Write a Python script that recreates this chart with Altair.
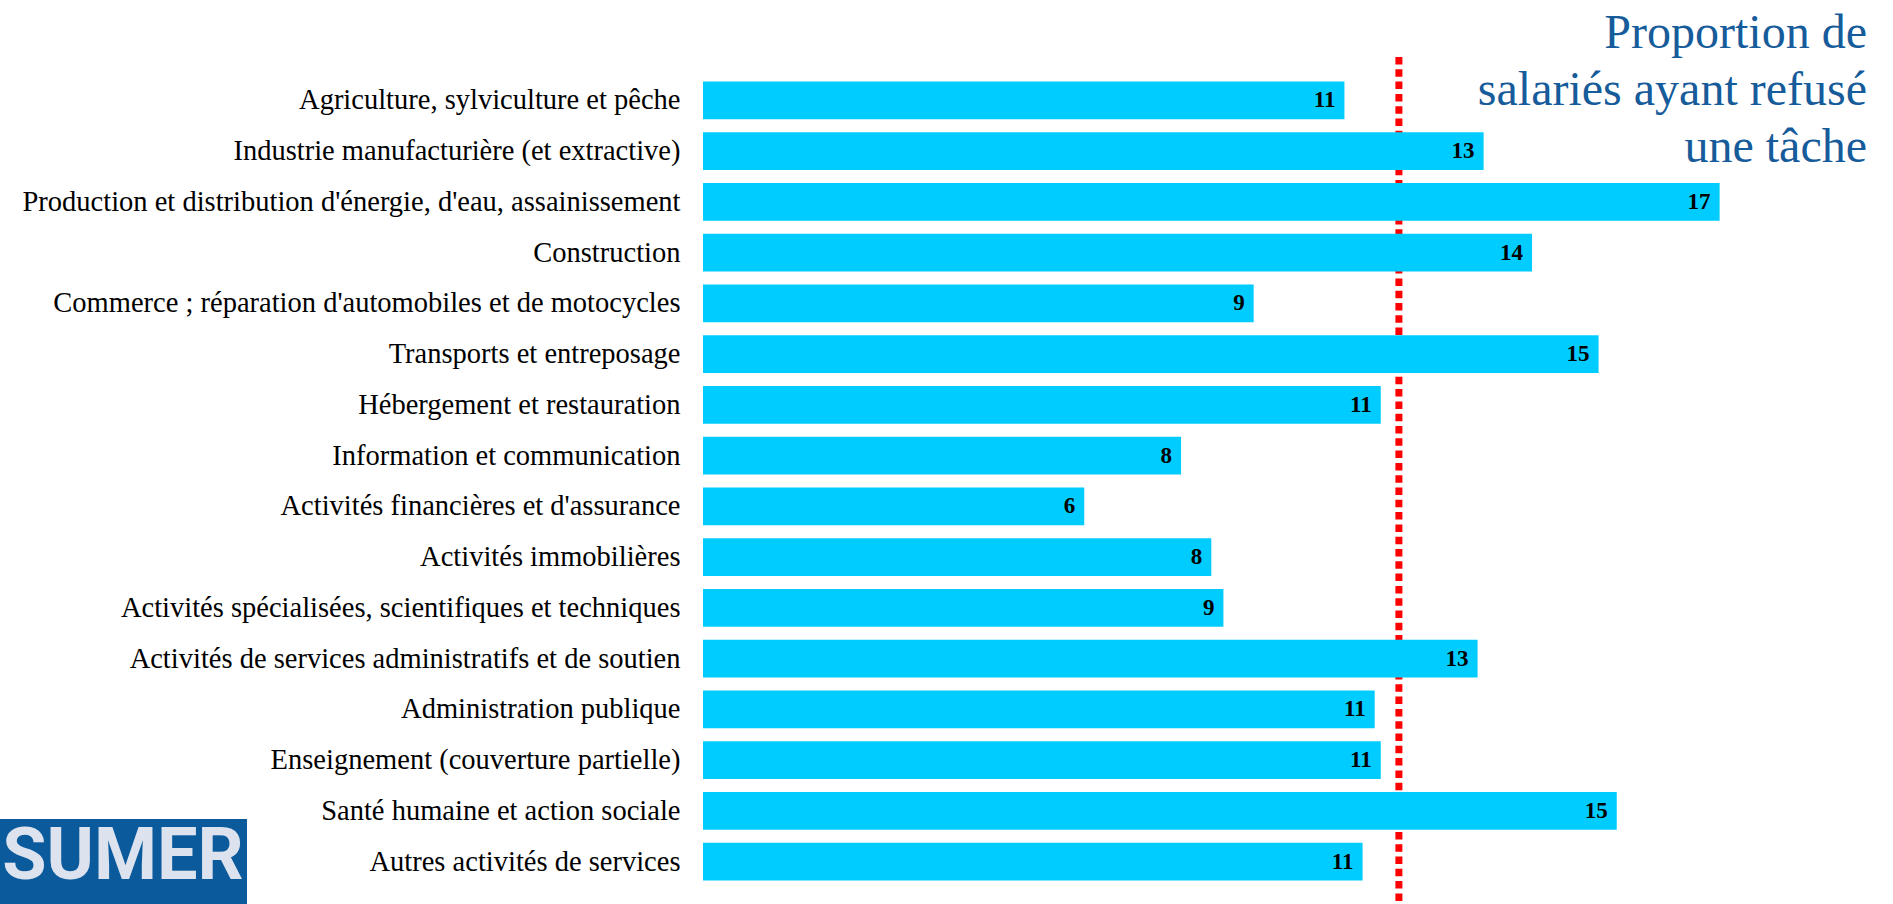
import altair as alt
import pandas as pd

categories = [
    "Agriculture, sylviculture et pêche",
    "Industrie manufacturière (et extractive)",
    "Production et distribution d'énergie, d'eau, assainissement",
    "Construction",
    "Commerce ; réparation d'automobiles et de motocycles",
    "Transports et entreposage",
    "Hébergement et restauration",
    "Information et communication",
    "Activités financières et d'assurance",
    "Activités immobilières",
    "Activités spécialisées, scientifiques et techniques",
    "Activités de services administratifs et de soutien",
    "Administration publique",
    "Enseignement (couverture partielle)",
    "Santé humaine et action sociale",
    "Autres activités de services",
]
values = [10.6, 12.9, 16.8, 13.7, 9.1, 14.8, 11.2, 7.9, 6.3, 8.4, 8.6, 12.8, 11.1, 11.2, 15.1, 10.9]
moyenne = [11.5]
title_lines = ["Proportion de", "salariés ayant refusé", "une tâche"]
logo_text = ["SUMER"]

df = pd.DataFrame({"secteur": categories, "valeur": values})
df_moy = pd.DataFrame({"moyenne": moyenne})
df_logo = pd.DataFrame({"logo": logo_text})

W = 1180
H = 812
X_MAX = 19.5

x_scale = alt.Scale(domain=[0, X_MAX], nice=False, zero=True)
y_enc = alt.Y(
    "secteur:N",
    sort=categories,
    scale=alt.Scale(paddingInner=0.26, paddingOuter=0.13),
    axis=alt.Axis(
        title=None, domain=False, ticks=False, grid=False,
        labelFont="Liberation Serif", labelFontSize=28.5, labelColor="#000000",
        labelPadding=23, labelLimit=0,
    ),
)

rule = alt.Chart(df_moy).mark_rule(
    color="#FF0000", strokeWidth=7, strokeDash=[7.5, 4.8]
).encode(
    x=alt.X("moyenne:Q", scale=x_scale, axis=None),
    y=alt.value(-18),
    y2=alt.value(840),
)

bars = alt.Chart(df).mark_bar(color="#00CCFF").encode(
    x=alt.X("valeur:Q", scale=x_scale, axis=None),
    y=y_enc,
)

labels = alt.Chart(df).mark_text(
    align="right", baseline="middle", dx=-9,
    font="Liberation Serif", fontSize=23, fontWeight="bold", color="#000000",
).encode(
    x=alt.X("valeur:Q", scale=x_scale, axis=None),
    y=y_enc,
    text=alt.Text("valeur:Q", format=".0f"),
)

logo_bg = alt.Chart(df_logo).mark_rect(color="#0B5A9C").encode(
    x=alt.value(-703), x2=alt.value(-456), y=alt.value(744), y2=alt.value(835),
)
logo_txt = alt.Chart(df_logo).mark_text(
    align="center", baseline="alphabetic", font="Roboto",
    fontSize=72, fontWeight="bold", color="#DDE3EE",
).encode(
    x=alt.value(-580), y=alt.value(804), text="logo:N",
)

chart = alt.layer(rule, bars, labels, logo_bg, logo_txt).properties(
    width=W,
    height=H,
    title=alt.TitleParams(
        text=title_lines,
        anchor="end",
        frame="group",
        orient="top",
        font="Liberation Serif",
        fontSize=48,
        fontWeight="normal",
        color="#165B9A",
        lineHeight=57,
        offset=0,
        dx=-16,
        dy=118,
    ),
).configure_view(stroke=None).properties(
    autosize=alt.AutoSizeParams(type="none"),
    padding={"left": 703, "top": 75, "right": 10, "bottom": 17},
    background="white",
)

chart.save("out.html", embed_options={"renderer": "svg", "actions": False})
